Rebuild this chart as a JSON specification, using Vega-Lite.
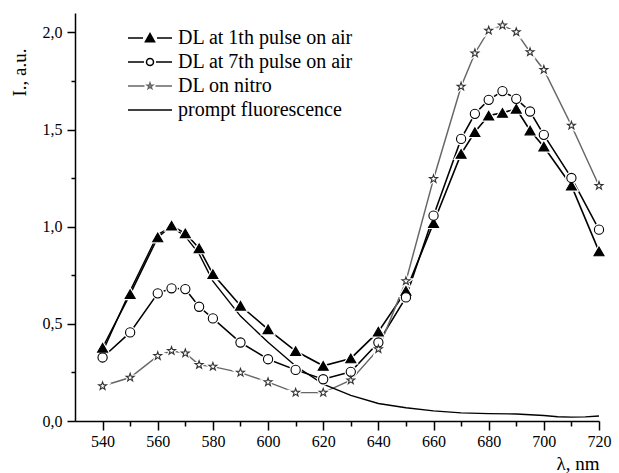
{
  "$schema": "https://vega.github.io/schema/vega-lite/v6.json",
  "width": 524,
  "height": 408,
  "autosize": {"type": "none"},
  "padding": {"left": 75, "top": 13, "right": 20, "bottom": 52},
  "background": "white",
  "config": {
    "view": {"stroke": null},
    "font": "Liberation Serif",
    "axis": {
      "grid": false,
      "domainColor": "black",
      "domainWidth": 1.5,
      "tickColor": "black",
      "tickWidth": 1.5,
      "labelColor": "black",
      "labelFont": "Liberation Serif",
      "labelFontSize": 16,
      "titleFont": "Liberation Serif",
      "titleFontSize": 19,
      "titleFontWeight": "normal",
      "titleColor": "black"
    },
    "legend": {
      "labelFont": "Liberation Serif",
      "labelFontSize": 20,
      "labelColor": "black",
      "labelLimit": 400
    }
  },
  "data": {
    "values": [
      {"s": "DL at 1th pulse on air", "x": 540, "y": 0.377},
      {"s": "DL at 1th pulse on air", "x": 550, "y": 0.653},
      {"s": "DL at 1th pulse on air", "x": 560, "y": 0.945},
      {"s": "DL at 1th pulse on air", "x": 565, "y": 1.005},
      {"s": "DL at 1th pulse on air", "x": 570, "y": 0.966},
      {"s": "DL at 1th pulse on air", "x": 575, "y": 0.889},
      {"s": "DL at 1th pulse on air", "x": 580, "y": 0.756},
      {"s": "DL at 1th pulse on air", "x": 590, "y": 0.593},
      {"s": "DL at 1th pulse on air", "x": 600, "y": 0.472},
      {"s": "DL at 1th pulse on air", "x": 610, "y": 0.36},
      {"s": "DL at 1th pulse on air", "x": 620, "y": 0.284},
      {"s": "DL at 1th pulse on air", "x": 630, "y": 0.322},
      {"s": "DL at 1th pulse on air", "x": 640, "y": 0.46},
      {"s": "DL at 1th pulse on air", "x": 650, "y": 0.67},
      {"s": "DL at 1th pulse on air", "x": 660, "y": 1.019},
      {"s": "DL at 1th pulse on air", "x": 670, "y": 1.375},
      {"s": "DL at 1th pulse on air", "x": 675, "y": 1.487},
      {"s": "DL at 1th pulse on air", "x": 680, "y": 1.572},
      {"s": "DL at 1th pulse on air", "x": 685, "y": 1.586},
      {"s": "DL at 1th pulse on air", "x": 690, "y": 1.607},
      {"s": "DL at 1th pulse on air", "x": 695, "y": 1.495},
      {"s": "DL at 1th pulse on air", "x": 700, "y": 1.412},
      {"s": "DL at 1th pulse on air", "x": 710, "y": 1.211},
      {"s": "DL at 1th pulse on air", "x": 720, "y": 0.873},
      {"s": "DL at 7th pulse on air", "x": 540, "y": 0.327},
      {"s": "DL at 7th pulse on air", "x": 550, "y": 0.456},
      {"s": "DL at 7th pulse on air", "x": 560, "y": 0.657},
      {"s": "DL at 7th pulse on air", "x": 565, "y": 0.683},
      {"s": "DL at 7th pulse on air", "x": 570, "y": 0.679},
      {"s": "DL at 7th pulse on air", "x": 575, "y": 0.588},
      {"s": "DL at 7th pulse on air", "x": 580, "y": 0.528},
      {"s": "DL at 7th pulse on air", "x": 590, "y": 0.404},
      {"s": "DL at 7th pulse on air", "x": 600, "y": 0.318},
      {"s": "DL at 7th pulse on air", "x": 610, "y": 0.263},
      {"s": "DL at 7th pulse on air", "x": 620, "y": 0.215},
      {"s": "DL at 7th pulse on air", "x": 630, "y": 0.253},
      {"s": "DL at 7th pulse on air", "x": 640, "y": 0.404},
      {"s": "DL at 7th pulse on air", "x": 650, "y": 0.636},
      {"s": "DL at 7th pulse on air", "x": 660, "y": 1.057},
      {"s": "DL at 7th pulse on air", "x": 670, "y": 1.452},
      {"s": "DL at 7th pulse on air", "x": 675, "y": 1.581},
      {"s": "DL at 7th pulse on air", "x": 680, "y": 1.653},
      {"s": "DL at 7th pulse on air", "x": 685, "y": 1.698},
      {"s": "DL at 7th pulse on air", "x": 690, "y": 1.658},
      {"s": "DL at 7th pulse on air", "x": 695, "y": 1.593},
      {"s": "DL at 7th pulse on air", "x": 700, "y": 1.473},
      {"s": "DL at 7th pulse on air", "x": 710, "y": 1.251},
      {"s": "DL at 7th pulse on air", "x": 720, "y": 0.985},
      {"s": "DL on nitro", "x": 540, "y": 0.18},
      {"s": "DL on nitro", "x": 550, "y": 0.224},
      {"s": "DL on nitro", "x": 560, "y": 0.335},
      {"s": "DL on nitro", "x": 565, "y": 0.361},
      {"s": "DL on nitro", "x": 570, "y": 0.349},
      {"s": "DL on nitro", "x": 575, "y": 0.289},
      {"s": "DL on nitro", "x": 580, "y": 0.28},
      {"s": "DL on nitro", "x": 590, "y": 0.249},
      {"s": "DL on nitro", "x": 600, "y": 0.2},
      {"s": "DL on nitro", "x": 610, "y": 0.146},
      {"s": "DL on nitro", "x": 620, "y": 0.146},
      {"s": "DL on nitro", "x": 630, "y": 0.21},
      {"s": "DL on nitro", "x": 640, "y": 0.37},
      {"s": "DL on nitro", "x": 650, "y": 0.72},
      {"s": "DL on nitro", "x": 660, "y": 1.246},
      {"s": "DL on nitro", "x": 670, "y": 1.722},
      {"s": "DL on nitro", "x": 675, "y": 1.893},
      {"s": "DL on nitro", "x": 680, "y": 2.01},
      {"s": "DL on nitro", "x": 685, "y": 2.036},
      {"s": "DL on nitro", "x": 690, "y": 2.002},
      {"s": "DL on nitro", "x": 695, "y": 1.899},
      {"s": "DL on nitro", "x": 700, "y": 1.808},
      {"s": "DL on nitro", "x": 710, "y": 1.521},
      {"s": "DL on nitro", "x": 720, "y": 1.211},
      {"s": "prompt fluorescence", "x": 540, "y": 0.355},
      {"s": "prompt fluorescence", "x": 550, "y": 0.67},
      {"s": "prompt fluorescence", "x": 560, "y": 0.96},
      {"s": "prompt fluorescence", "x": 565, "y": 1.0},
      {"s": "prompt fluorescence", "x": 570, "y": 0.95},
      {"s": "prompt fluorescence", "x": 575, "y": 0.86},
      {"s": "prompt fluorescence", "x": 580, "y": 0.72},
      {"s": "prompt fluorescence", "x": 590, "y": 0.54},
      {"s": "prompt fluorescence", "x": 600, "y": 0.405},
      {"s": "prompt fluorescence", "x": 610, "y": 0.283},
      {"s": "prompt fluorescence", "x": 620, "y": 0.19},
      {"s": "prompt fluorescence", "x": 630, "y": 0.132},
      {"s": "prompt fluorescence", "x": 640, "y": 0.09},
      {"s": "prompt fluorescence", "x": 650, "y": 0.068},
      {"s": "prompt fluorescence", "x": 660, "y": 0.052},
      {"s": "prompt fluorescence", "x": 670, "y": 0.042},
      {"s": "prompt fluorescence", "x": 680, "y": 0.038},
      {"s": "prompt fluorescence", "x": 690, "y": 0.036},
      {"s": "prompt fluorescence", "x": 700, "y": 0.028},
      {"s": "prompt fluorescence", "x": 705, "y": 0.022},
      {"s": "prompt fluorescence", "x": 710, "y": 0.02},
      {"s": "prompt fluorescence", "x": 715, "y": 0.021},
      {"s": "prompt fluorescence", "x": 720, "y": 0.026}
    ]
  },
  "encoding": {
    "x": {
      "field": "x",
      "type": "quantitative",
      "scale": {"domain": [530, 720], "nice": false, "zero": false},
      "axis": {
        "values": [540, 550, 560, 570, 580, 590, 600, 610, 620, 630, 640, 650, 660, 670, 680, 690, 700, 710, 720],
        "labelExpr": "datum.value % 20 === 0 ? datum.label : ''",
        "tickSize": {"condition": {"test": "datum.value % 20 !== 0", "value": 5}, "value": 9},
        "labelPadding": 3,
        "labelFlush": false,
        "title": "λ, nm",
        "titleAnchor": "end",
        "titleAlign": "right",
        "titleBaseline": "middle",
        "titleX": 524,
        "titleY": 42
      }
    },
    "y": {
      "field": "y",
      "type": "quantitative",
      "scale": {"domain": [0, 2.1], "nice": false},
      "axis": {
        "values": [0, 0.25, 0.5, 0.75, 1, 1.25, 1.5, 1.75, 2],
        "labelExpr": "datum.value % 0.5 === 0 ? replace(format(datum.value, '.1f'), '.', ',') : ''",
        "tickSize": {"condition": {"test": "datum.value % 0.5 !== 0", "value": 4}, "value": 8},
        "labelPadding": 5,
        "labelFlush": false,
        "title": "I., a.u.",
        "titleAngle": 270,
        "titleAlign": "right",
        "titleBaseline": "middle",
        "titleX": -56,
        "titleY": 35
      }
    }
  },
  "layer": [
    {
      "mark": {"type": "line"},
      "encoding": {
        "color": {
          "field": "s",
          "type": "nominal",
          "scale": {
            "domain": ["DL at 1th pulse on air", "DL at 7th pulse on air", "DL on nitro", "prompt fluorescence"],
            "range": ["black", "black", "#666666", "black"]
          },
          "legend": {
            "title": null,
            "orient": "none",
            "legendX": 65,
            "legendY": 15,
            "padding": 0,
            "rowPadding": 4,
            "symbolSize": 100,
            "symbolOffset": 0,
            "labelOffset": 18,
            "encode": {
              "symbols": {
                "update": {
                  "shape": {"signal": "datum.value === 'DL at 1th pulse on air' ? 'M-4.4,0H-1.4M1.4,0H4.4M-0.9,0.75L0,-0.85L0.9,0.75Z' : datum.value === 'DL at 7th pulse on air' ? 'M-4.4,0H-1.2M1.2,0H4.4M0.7,0C0.7,0.387,0.387,0.7,0,0.7C-0.387,0.7,-0.7,0.387,-0.7,0C-0.7,-0.387,-0.387,-0.7,0,-0.7C0.387,-0.7,0.7,-0.387,0.7,0Z' : datum.value === 'DL on nitro' ? 'M-4.4,0H-1.1M1.1,0H4.4M0,-0.6L0.141,-0.194L0.571,-0.185L0.228,0.074L0.353,0.485L0,0.24L-0.353,0.485L-0.228,0.074L-0.571,-0.185L-0.141,-0.194Z' : 'M-4.4,0H4.4'"},
                  "fill": {"signal": "datum.value === 'DL at 1th pulse on air' ? 'black' : datum.value === 'prompt fluorescence' ? 'transparent' : 'white'"},
                  "stroke": {"signal": "datum.value === 'DL on nitro' ? '#555555' : 'black'"},
                  "strokeWidth": {"signal": "datum.value === 'DL on nitro' ? 1 : 1.6"},
                  "opacity": {"value": 1}
                }
              }
            }
          }
        },
        "strokeWidth": {
          "field": "s",
          "type": "nominal",
          "scale": {
            "domain": ["DL at 1th pulse on air", "DL at 7th pulse on air", "DL on nitro", "prompt fluorescence"],
            "range": [1.6, 1.4, 0.9, 1.5]
          },
          "legend": null
        }
      }
    },
    {
      "transform": [{"filter": "datum.s !== 'prompt fluorescence'"}],
      "mark": {"type": "point", "filled": true, "fill": "white", "stroke": "white", "strokeWidth": 3.5, "opacity": 1},
      "encoding": {
        "shape": {
          "field": "s",
          "type": "nominal",
          "scale": {
            "domain": ["DL at 1th pulse on air", "DL at 7th pulse on air", "DL on nitro"],
            "range": ["triangle-up", "circle", "M0,-1L0.235,-0.324L0.951,-0.309L0.38,0.124L0.588,0.809L0,0.4L-0.588,0.809L-0.38,0.124L-0.951,-0.309L-0.235,-0.324Z"]
          },
          "legend": null
        },
        "size": {
          "field": "s",
          "type": "nominal",
          "scale": {
            "domain": ["DL at 1th pulse on air", "DL at 7th pulse on air", "DL on nitro"],
            "range": [100, 70, 48]
          },
          "legend": null
        }
      }
    },
    {
      "transform": [{"filter": "datum.s !== 'prompt fluorescence'"}],
      "mark": {"type": "point", "strokeWidth": 1.1, "opacity": 1},
      "encoding": {
        "shape": {"field": "s", "type": "nominal", "legend": null},
        "size": {"field": "s", "type": "nominal", "legend": null},
        "fill": {
          "field": "s",
          "type": "nominal",
          "scale": {
            "domain": ["DL at 1th pulse on air", "DL at 7th pulse on air", "DL on nitro"],
            "range": ["black", "white", "white"]
          },
          "legend": null
        },
        "stroke": {
          "field": "s",
          "type": "nominal",
          "scale": {
            "domain": ["DL at 1th pulse on air", "DL at 7th pulse on air", "DL on nitro"],
            "range": ["black", "black", "#333333"]
          },
          "legend": null
        }
      }
    }
  ]
}
